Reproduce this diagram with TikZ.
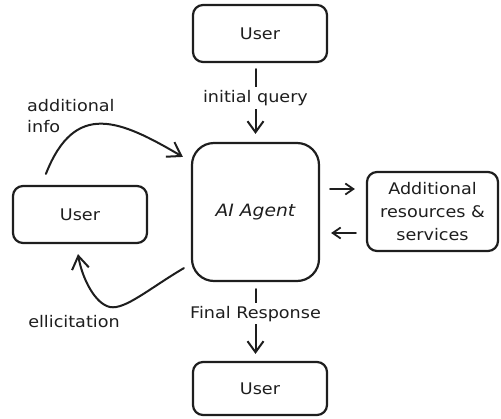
\documentclass[tikz,border=0pt]{standalone}
\usepackage{fontspec}
\setmainfont[FakeStretch=1.1]{DejaVu Sans}
\usetikzlibrary{arrows.meta}
\definecolor{ink}{HTML}{1E1E1E}
\begin{document}
\begin{tikzpicture}[x=1pt,y=-1pt,
  every node/.style={text=ink, font=\fontsize{16}{23}\selectfont},
  box/.style={draw=ink, line width=2.2pt, rounded corners=10pt, inner sep=0pt, align=center},
  link/.style={draw=ink, line width=2pt, line cap=round},
  bigtip/.style={-{Straight Barb[length=11pt,width=16pt,line width=2pt]}},
  smalltip/.style={-{Straight Barb[length=8pt,width=11pt,line width=1.8pt]}},
  curvetip/.style={-{Straight Barb[length=13pt,width=17pt,line width=2pt]}},
  lab/.style={fill=white, inner sep=3pt}]
\useasboundingbox (0,0) rectangle (501,418);

% boxes
\node[box, minimum width=134pt, minimum height=57pt] (tu) at (260,33.5) {User};
\node[box, rounded corners=22pt, minimum width=127pt, minimum height=138pt] (ag) at (255.5,212) {\fontsize{17}{23}\selectfont\itshape AI Agent};
\node[box, minimum width=131pt, minimum height=79pt] (rs) at (432.5,211.5) {Additional\\resources \&\\services};
\node[box, minimum width=134pt, minimum height=57pt] (lu) at (80,214.5) {User};
\node[box, minimum width=134pt, minimum height=53pt] (bu) at (260,388.5) {User};

% vertical flow
\draw[link, bigtip, shorten <=6pt, shorten >=8pt]
  (tu.south -| ag.north) -- node[lab, pos=0.44] {initial query} (ag.north);
\draw[link, bigtip, shorten <=7pt, shorten >=7pt]
  (ag.south) -- node[lab, pos=0.4] {Final Response} (bu.north -| ag.south);

% exchange with external resources
\coordinate (r1) at ([yshift=23pt]ag.east);
\coordinate (r2) at ([yshift=-21pt]ag.east);
\draw[link, smalltip, shorten <=10pt, shorten >=11pt] (r1) -- (r1 -| rs.west);
\draw[link, smalltip, shorten <=10pt, shorten >=11pt] (r2 -| rs.west) -- (r2);

% loop with the side user
\draw[link, curvetip] ([shift={(34,-11)}]lu.north west)
  .. controls (75,100) and (120,120) .. ([shift={(-8,15)}]ag.north west);
\draw[link, curvetip] ([shift={(-7,-14)}]ag.south west)
  .. controls (150,288) and (125,310) .. (110,307)
  .. controls (95,304) and (82,278) .. ([shift={(-2,10)}]lu.south);

\node[anchor=north west, align=left, inner sep=0pt] (ai) at (27,99) {additional\\[-2pt]info};
\node[inner sep=0pt] (el) at (74,322) {ellicitation};
\end{tikzpicture}
\end{document}
